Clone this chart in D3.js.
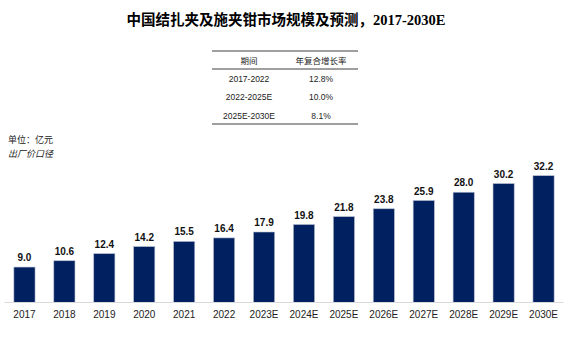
<!DOCTYPE html>
<html><head><meta charset="utf-8">
<script src="https://cdn.jsdelivr.net/npm/d3@7"></script>
<style>body{margin:0;background:#fff}svg{display:block}</style>
</head><body><svg id="c" width="570" height="340"></svg>
<script>
const categories = ["2017","2018","2019","2020","2021","2022","2023E","2024E","2025E","2026E","2027E","2028E","2029E","2030E"];
const values = [9.0,10.6,12.4,14.2,15.5,16.4,17.9,19.8,21.8,23.8,25.9,28.0,30.2,32.2];
const tableHeader = ["期间","年复合增长率"];
const tablePeriods = ["2017-2022","2022-2025E","2025E-2030E"];
const tableCagr = ["12.8%","10.0%","8.1%"];

const svg = d3.select("#c");
const cjk = "'Noto Sans CJK SC', sans-serif";
const latin = "'Liberation Sans', Arial, sans-serif";

// Title
const title = svg.append("text").attr("x", 286).attr("y", 25).attr("text-anchor","middle")
  .attr("font-weight","bold").attr("font-size",14.5).attr("fill","#000");
title.append("tspan").attr("font-family", cjk).text("中国结扎夹及施夹钳市场规模及预测，");
title.append("tspan").attr("font-family","'Liberation Serif', 'Times New Roman', serif").text("2017-2030E");

// Table
const tx0 = 212, tx1 = 358;
svg.append("line").attr("x1",tx0).attr("x2",tx1).attr("y1",51).attr("y2",51).attr("stroke","#7f7f7f").attr("stroke-width",1.5);
svg.append("line").attr("x1",tx0).attr("x2",tx1).attr("y1",69).attr("y2",69).attr("stroke","#7f7f7f").attr("stroke-width",1.5);
svg.append("line").attr("x1",tx0).attr("x2",tx1).attr("y1",124).attr("y2",124).attr("stroke","#7f7f7f").attr("stroke-width",1.5);
const colX = [249, 321];
tableHeader.forEach((h,i)=>svg.append("text").attr("x",colX[i]).attr("y",64).attr("text-anchor","middle")
  .attr("font-family",cjk).attr("font-size",8.5).attr("fill","#222").text(h));
const rowY = [82, 100, 119];
tablePeriods.forEach((p,i)=>{
  svg.append("text").attr("x",colX[0]).attr("y",rowY[i]).attr("text-anchor","middle")
    .attr("font-family",latin).attr("font-size",8.5).attr("fill","#222").text(p);
  svg.append("text").attr("x",colX[1]).attr("y",rowY[i]).attr("text-anchor","middle")
    .attr("font-family",latin).attr("font-size",8.5).attr("fill","#222").text(tableCagr[i]);
});

// Unit labels
svg.append("text").attr("x",8).attr("y",143).attr("font-family",cjk).attr("font-size",9).attr("fill","#222").text("单位：亿元");
svg.append("text").attr("x",8).attr("y",157).attr("font-family",cjk).attr("font-size",9).attr("font-style","italic").attr("fill","#222").text("出厂价口径");

// Chart
const baseY = 302.5;
const x = d3.scaleBand().domain(categories).range([4.5, 563.5]).paddingInner(0.47).paddingOuter(0.235);
const y = d3.scaleLinear().domain([0, 32.2]).range([baseY, 175.7]);

svg.selectAll("rect.bar").data(values).enter().append("rect").attr("class","bar")
  .attr("x",(d,i)=>x(categories[i])).attr("width",x.bandwidth())
  .attr("y",d=>y(d)).attr("height",d=>baseY-y(d))
  .attr("fill","#002060").attr("stroke","#b4bccf").attr("stroke-width",0.6);

svg.selectAll("text.val").data(values).enter().append("text").attr("class","val")
  .attr("x",(d,i)=>x(categories[i])+x.bandwidth()/2).attr("y",d=>y(d)-6)
  .attr("text-anchor","middle").attr("font-family",latin).attr("font-weight","bold")
  .attr("font-size",10).attr("fill","#111").text(d=>d.toFixed(1));

const axis = d3.axisBottom(x).tickSize(0).tickPadding(8);
const g = svg.append("g").attr("transform",`translate(0,${baseY})`).call(axis);
g.select(".domain").attr("stroke","#d9d9d9").attr("stroke-width",1).attr("d","M4.5,0H563.5");
g.selectAll("text").attr("font-family",latin).attr("font-size",10).attr("fill","#222");
</script></body></html>
